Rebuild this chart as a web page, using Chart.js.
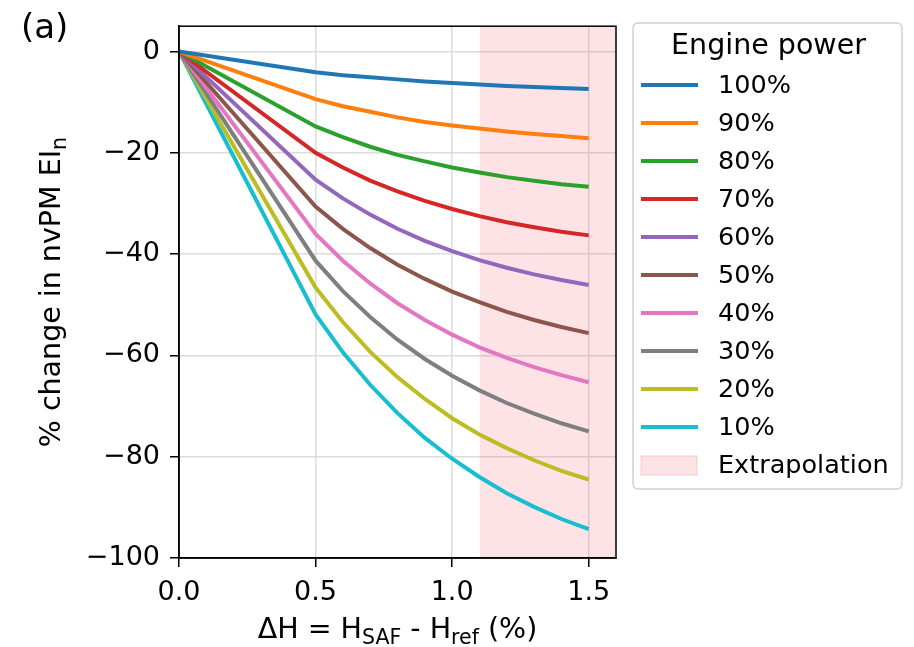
<!DOCTYPE html>
<html>
<head>
<meta charset="utf-8">
<script src="https://cdn.jsdelivr.net/npm/chart.js@4"></script>
<style>
  html, body { margin: 0; padding: 0; background: #fff; }
  #wrap { width: 914px; height: 647px; }
</style>
</head>
<body>
<div id="wrap"><canvas id="chart" width="914" height="647"></canvas></div>
<script>
// hydrogen content difference (%)
const dH = [0, 0.5, 0.6, 0.7, 0.8, 0.9, 1.0, 1.1, 1.2, 1.3, 1.4, 1.5];

// % change in nvPM EIn, per engine power setting
const p100 = [0, -4.1, -4.7, -5.1, -5.5, -5.9, -6.2, -6.5, -6.8, -7.0, -7.2, -7.4];
const p90  = [0, -9.4, -10.8, -11.9, -13.0, -13.9, -14.6, -15.2, -15.8, -16.3, -16.7, -17.1];
const p80  = [0, -14.8, -16.9, -18.8, -20.4, -21.7, -22.9, -23.9, -24.8, -25.5, -26.2, -26.7];
const p70  = [0, -20.0, -22.9, -25.5, -27.6, -29.5, -31.1, -32.5, -33.7, -34.7, -35.6, -36.3];
const p60  = [0, -25.3, -29.0, -32.2, -35.0, -37.4, -39.4, -41.2, -42.7, -44.0, -45.1, -46.1];
const p50  = [0, -30.6, -35.0, -38.8, -42.1, -44.9, -47.4, -49.5, -51.4, -53.0, -54.4, -55.6];
const p40  = [0, -36.0, -41.3, -45.8, -49.7, -53.0, -55.9, -58.4, -60.5, -62.3, -63.9, -65.3];
const p30  = [0, -41.3, -47.3, -52.4, -56.9, -60.7, -64.0, -66.9, -69.4, -71.5, -73.4, -75.0];
const p20  = [0, -46.6, -53.4, -59.3, -64.3, -68.6, -72.4, -75.6, -78.3, -80.7, -82.8, -84.5];
const p10  = [0, -51.9, -59.4, -65.8, -71.4, -76.3, -80.4, -84.0, -87.2, -89.9, -92.3, -94.3];

const powerLabels = ['100%', '90%', '80%', '70%', '60%', '50%', '40%', '30%', '20%', '10%'];
const powerSeries = [p100, p90, p80, p70, p60, p50, p40, p30, p20, p10];
const colors = ['#1f77b4', '#ff7f0e', '#2ca02c', '#d62728', '#9467bd',
                '#8c564b', '#e377c2', '#7f7f7f', '#bcbd22', '#17becf'];

// extrapolated range of dH
const extrapStart = 1.1;
const extrapEnd = 1.6;

const xTicks = [0, 0.5, 1.0, 1.5];
const yTicks = [0, -20, -40, -60, -80, -100];

const FONT = "'DejaVu Sans', sans-serif";
const EXTRAP_FILL = 'rgba(240,80,100,0.16)';
const EXTRAP_EDGE = 'rgba(235,120,135,0.35)';

const datasets = powerSeries.map((s, i) => ({
  label: powerLabels[i],
  data: s.map((v, j) => ({ x: dH[j], y: v })),
  borderColor: colors[i],
  backgroundColor: colors[i],
  borderWidth: 4,
  pointRadius: 0,
  tension: 0,
  fill: false,
}));

// shaded extrapolation band, last so it sits behind the curves
datasets.push({
  label: 'Extrapolation',
  data: [{ x: extrapStart, y: 5 }, { x: extrapEnd, y: 5 }],
  borderWidth: 0,
  borderColor: 'rgba(0,0,0,0)',
  backgroundColor: EXTRAP_FILL,
  pointRadius: 0,
  fill: 'start',
});

// draw text with subscript pieces
function richText(ctx, parts, size) {
  let w = 0;
  parts.forEach(p => {
    ctx.font = (p.sub ? size * 0.72 : size) + 'px ' + FONT;
    p.w = ctx.measureText(p.t).width;
    w += p.w;
  });
  let x = -w / 2;
  parts.forEach(p => {
    ctx.font = (p.sub ? size * 0.72 : size) + 'px ' + FONT;
    ctx.fillText(p.t, x, p.sub ? size * 0.22 : 0);
    x += p.w;
  });
}

const decorPlugin = {
  id: 'decor',
  afterDraw(chart) {
    const { ctx, chartArea: a } = chart;
    ctx.save();

    // full axes frame
    ctx.strokeStyle = '#000';
    ctx.lineWidth = 1.5;
    ctx.strokeRect(a.left, a.top, a.right - a.left, a.bottom - a.top);

    ctx.fillStyle = '#000';
    ctx.textBaseline = 'alphabetic';
    ctx.textAlign = 'left';

    // x title
    ctx.save();
    ctx.translate((a.left + a.right) / 2, 638);
    richText(ctx, [{ t: 'ΔH = H' }, { t: 'SAF', sub: true }, { t: ' - H' }, { t: 'ref', sub: true }, { t: ' (%)' }], 28.5);
    ctx.restore();

    // y title
    ctx.save();
    ctx.translate(60, (a.top + a.bottom) / 2);
    ctx.rotate(-Math.PI / 2);
    richText(ctx, [{ t: '% change in nvPM EI' }, { t: 'n', sub: true }], 28.5);
    ctx.restore();

    // panel label
    ctx.font = '34px ' + FONT;
    ctx.fillText('(a)', 21, 38);

    // legend
    const bx = 633, by = 23, bw = 269, bh = 466;
    ctx.beginPath();
    ctx.roundRect(bx, by, bw, bh, 5);
    ctx.fillStyle = 'rgba(255,255,255,0.85)';
    ctx.fill();
    ctx.strokeStyle = '#d0d0d0';
    ctx.lineWidth = 1.5;
    ctx.stroke();

    ctx.fillStyle = '#000';
    ctx.font = '28.5px ' + FONT;
    ctx.textAlign = 'center';
    ctx.textBaseline = 'middle';
    ctx.fillText('Engine power', bx + bw / 2 + 1, 47);

    ctx.font = '25.5px ' + FONT;
    ctx.textAlign = 'left';
    chart.data.datasets.forEach((ds, i) => {
      const y = 85 + i * 38;
      if (ds.fill) {
        ctx.fillStyle = EXTRAP_FILL;
        ctx.fillRect(641, y - 9, 56, 19);
        ctx.strokeStyle = EXTRAP_EDGE;
        ctx.lineWidth = 1;
        ctx.strokeRect(641, y - 9, 56, 19);
      } else {
        ctx.strokeStyle = ds.borderColor;
        ctx.lineWidth = 4;
        ctx.beginPath();
        ctx.moveTo(641, y);
        ctx.lineTo(698, y);
        ctx.stroke();
      }
      ctx.fillStyle = '#000';
      ctx.fillText(ds.label, 718, y + 1);
    });

    ctx.restore();
  }
};

new Chart(document.getElementById('chart'), {
  type: 'line',
  data: { datasets },
  options: {
    responsive: false,
    animation: false,
    layout: { padding: { left: 0, right: 298, top: 24, bottom: 0 } },
    plugins: {
      legend: { display: false },
      tooltip: { enabled: false },
    },
    scales: {
      x: {
        type: 'linear',
        min: 0,
        max: extrapEnd,
        afterBuildTicks: s => { s.ticks = xTicks.map(v => ({ value: v })); },
        afterFit: s => { s.height = 89; },
        ticks: {
          color: '#000',
          font: { family: FONT, size: 27 },
          padding: 10,
          maxRotation: 0,
          callback: v => v.toFixed(1),
        },
        grid: { color: '#dcdcdc', lineWidth: 1.5, tickLength: 9, tickColor: '#000', tickWidth: 1.5 },
        border: { color: '#000', width: 1.5 },
      },
      y: {
        min: -100,
        max: 5,
        afterBuildTicks: s => { s.ticks = yTicks.map(v => ({ value: v })); },
        afterFit: s => { s.width = 179; },
        ticks: {
          color: '#000',
          font: { family: FONT, size: 27 },
          padding: 10,
          callback: v => (v < 0 ? '\u2212' + Math.abs(v) : String(v)),
        },
        grid: { color: '#dcdcdc', lineWidth: 1.5, tickLength: 9, tickColor: '#000', tickWidth: 1.5 },
        border: { color: '#000', width: 1.5 },
      },
    },
  },
  plugins: [decorPlugin],
});
</script>
</body>
</html>
